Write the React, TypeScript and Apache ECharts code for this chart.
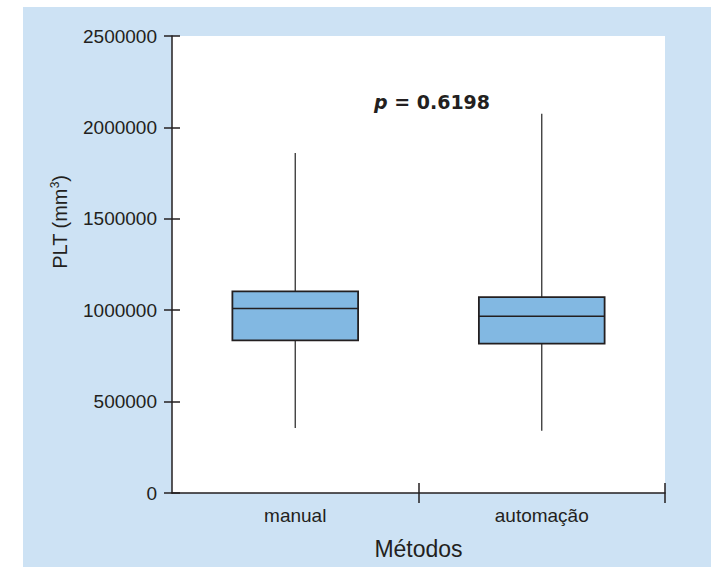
import React, { useEffect, useRef } from "react";
import * as echarts from "echarts";

const categories = ["manual", "automação"];
const whiskerLow = [355000, 341000];
const q1 = [835000, 817000];
const median = [1009000, 967000];
const q3 = [1103000, 1072000];
const whiskerHigh = [1860000, 2075000];
const yTicks = { min: 0, max: 2500000, interval: 500000 };
const pText = "0.6198";

const FONT = "'Liberation Sans', Arial, sans-serif";
const INK = "#231f20";

export default function App() {
  const ref = useRef<HTMLDivElement>(null);
  useEffect(() => {
    if (!ref.current) return;
    const chart = echarts.init(ref.current, null, { renderer: "svg" });
    const data = categories.map((_, i) => [i, whiskerLow[i], q1[i], median[i], q3[i], whiskerHigh[i]]);
    const tickStyle = { color: INK, width: 1.5 };
    chart.setOption({
      animation: false,
      backgroundColor: "#ffffff",
      textStyle: { fontFamily: FONT },
      grid: { left: 172, top: 36, right: 56, bottom: 74, containLabel: false },
      graphic: [
        { type: "rect", z: -10, silent: true, shape: { x: 23, y: 7, width: 688, height: 560 }, style: { fill: "#cde2f4" } },
        { type: "rect", z: -9, silent: true, shape: { x: 172, y: 36, width: 493, height: 457 }, style: { fill: "#ffffff" } },
        {
          type: "text",
          z: 10,
          x: 60,
          y: 222,
          rotation: Math.PI / 2,
          style: {
            text: "PLT (mm{sup|3})",
            fontSize: 20,
            fontFamily: FONT,
            fill: INK,
            align: "center",
            verticalAlign: "middle",
            rich: { sup: { fontSize: 12, fontFamily: FONT, fill: INK, verticalAlign: "top", lineHeight: 22 } },
          },
        },
        {
          type: "text",
          z: 10,
          x: 432,
          y: 102,
          style: {
            text: "{i|p} = " + pText,
            fontSize: 19,
            fontWeight: "bold",
            fontFamily: "'DejaVu Sans', sans-serif",
            fill: INK,
            align: "center",
            verticalAlign: "middle",
            rich: { i: { fontSize: 19, fontWeight: "bold", fontStyle: "italic", fontFamily: "'DejaVu Sans', sans-serif", fill: INK } },
          },
        },
      ],
      xAxis: [
        {
          type: "category",
          data: categories,
          boundaryGap: true,
          axisLine: { show: true, lineStyle: tickStyle },
          axisTick: { show: false },
          axisLabel: { fontSize: 19, color: INK, margin: 13, fontFamily: FONT },
          name: "Métodos",
          nameLocation: "middle",
          nameGap: 44,
          nameTextStyle: { fontSize: 23, color: INK, fontFamily: FONT },
          splitLine: { show: false },
        },
        {
          type: "value",
          position: "bottom",
          min: 0,
          max: 2,
          interval: 1,
          axisLine: { show: false },
          axisLabel: { show: false },
          splitLine: { show: false },
          axisTick: { show: true, customValues: [1, 2], inside: true, length: 10, lineStyle: tickStyle },
        },
        {
          type: "value",
          position: "bottom",
          min: 0,
          max: 2,
          interval: 1,
          axisLine: { show: false },
          axisLabel: { show: false },
          splitLine: { show: false },
          axisTick: { show: true, customValues: [1, 2], inside: false, length: 10, lineStyle: tickStyle },
        },
      ],
      yAxis: [
        {
          type: "value",
          min: yTicks.min,
          max: yTicks.max,
          interval: yTicks.interval,
          axisLine: { show: true, lineStyle: tickStyle },
          axisTick: { show: true, length: 8, lineStyle: tickStyle },
          axisLabel: { fontSize: 19, color: INK, margin: 15, fontFamily: FONT, formatter: (v: number) => String(v) },
          splitLine: { show: false },
        },
        {
          type: "value",
          position: "left",
          min: yTicks.min,
          max: yTicks.max,
          interval: yTicks.interval,
          axisLine: { show: false },
          axisTick: { show: true, inside: true, length: 8, lineStyle: tickStyle },
          axisLabel: { show: false },
          splitLine: { show: false },
        },
      ],
      series: [
        {
          type: "custom",
          xAxisIndex: 0,
          yAxisIndex: 0,
          encode: { x: 0, y: [1, 2, 3, 4, 5] },
          data,
          renderItem: (params: any, api: any) => {
            const idx = api.value(0);
            const pLow = api.coord([idx, api.value(1)]);
            const pQ1 = api.coord([idx, api.value(2)]);
            const pMed = api.coord([idx, api.value(3)]);
            const pQ3 = api.coord([idx, api.value(4)]);
            const pHigh = api.coord([idx, api.value(5)]);
            const band = api.size([1, 0])[0];
            const hw = band * 0.255;
            const cx = pMed[0];
            const whisk = { stroke: "#333333", lineWidth: 1.3 };
            return {
              type: "group",
              children: [
                { type: "line", shape: { x1: cx, y1: pQ3[1], x2: cx, y2: pHigh[1] }, style: whisk },
                { type: "line", shape: { x1: cx, y1: pQ1[1], x2: cx, y2: pLow[1] }, style: whisk },
                {
                  type: "rect",
                  shape: { x: cx - hw, y: pQ3[1], width: hw * 2, height: pQ1[1] - pQ3[1] },
                  style: { fill: "#82b8e2", stroke: INK, lineWidth: 1.8 },
                },
                { type: "line", shape: { x1: cx - hw, y1: pMed[1], x2: cx + hw, y2: pMed[1] }, style: { stroke: INK, lineWidth: 1.6 } },
              ],
            };
          },
        },
      ],
    });
    return () => chart.dispose();
  }, []);
  return <div ref={ref} style={{ position: "fixed", left: 0, top: 0, width: 721, height: 567 }} />;
}
